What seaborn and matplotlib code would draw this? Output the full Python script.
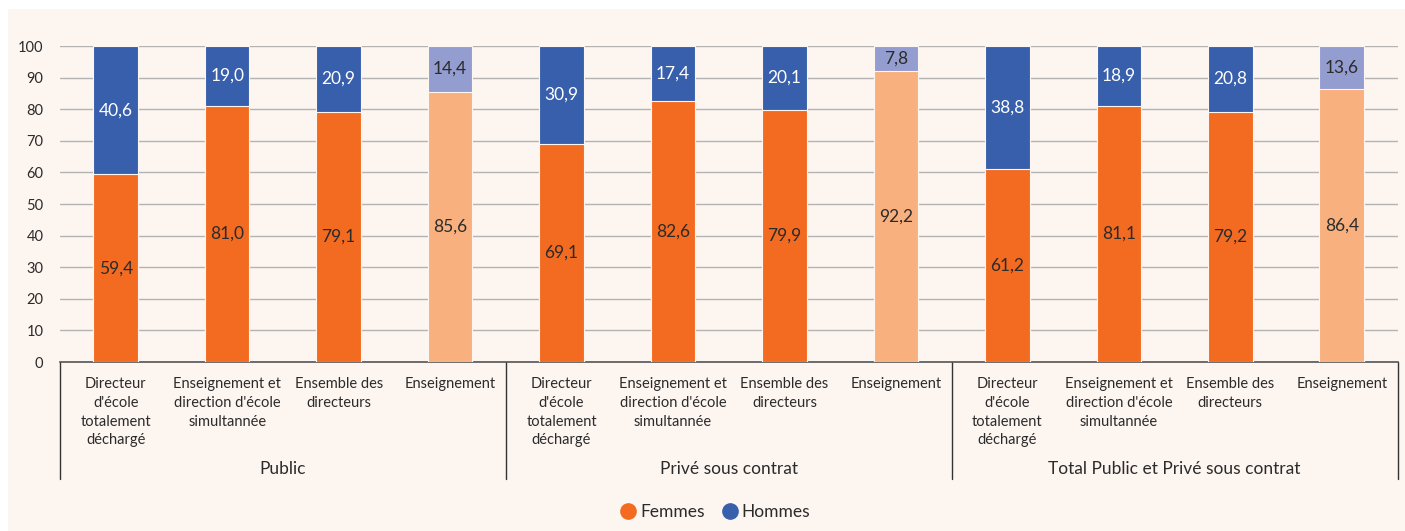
import matplotlib
matplotlib.use("Agg")
import matplotlib.pyplot as plt
import matplotlib.transforms as mtransforms
from matplotlib.lines import Line2D
from matplotlib.patches import Rectangle
import pandas as pd
import seaborn as sns

# Data (percent)
groups = ["Public", "Privé sous contrat", "Total Public et Privé sous contrat"]
categories = ["Directeur\nd'école\ntotalement\ndéchargé",
              "Enseignement et\ndirection d'école\nsimultannée",
              "Ensemble des\ndirecteurs",
              "Enseignement"]
femmes = [59.4, 81.0, 79.1, 85.6,
          69.1, 82.6, 79.9, 92.2,
          61.2, 81.1, 79.2, 86.4]
hommes = [40.6, 19.0, 20.9, 14.4,
          30.9, 17.4, 20.1, 7.8,
          38.8, 18.9, 20.8, 13.6]

ORANGE = "#f36b21"
BLUE = "#385fac"
ORANGE_LIGHT = "#f9b07f"
BLUE_LIGHT = "#949dcf"
BG = "#fdf5f0"
TXT = "#2b2b2b"

n = len(femmes)
df = pd.DataFrame({
    "idx": list(range(n)),
    "femmes": femmes,
    "total": [f + h for f, h in zip(femmes, hommes)],
})
f_colors = [ORANGE_LIGHT if i % 4 == 3 else ORANGE for i in range(n)]
h_colors = [BLUE_LIGHT if i % 4 == 3 else BLUE for i in range(n)]

sns.set_style("white")
plt.rcParams["font.family"] = ["Lato", "DejaVu Sans"]

fig = plt.figure(figsize=(14.05, 5.31), dpi=100)
fig.patches.append(Rectangle((8 / 1405, 0), 1, 1 - 9 / 531, transform=fig.transFigure,
                             facecolor=BG, edgecolor="none", zorder=-10))
ax = fig.add_axes([60 / 1405, 169 / 531, 1337.5 / 1405, 316 / 531])
ax.set_facecolor(BG)

# stacked: totals in the male colour, women drawn over them
sns.barplot(data=df, x="idx", y="total", hue="idx", palette=h_colors, legend=False,
            saturation=1, width=0.4, edgecolor=BG, linewidth=0.8, ax=ax, zorder=3)
sns.barplot(data=df, x="idx", y="femmes", hue="idx", palette=f_colors, legend=False,
            saturation=1, width=0.4, edgecolor=BG, linewidth=0.8, ax=ax, zorder=3)

def fmt(v):
    return f"{v:.1f}".replace(".", ",")

for i, (f, h) in enumerate(zip(femmes, hommes)):
    ax.text(i, f / 2, fmt(f), ha="center", va="center", fontsize=12.5, color=TXT, zorder=5)
    hc = TXT if i % 4 == 3 else "white"
    ax.text(i, f + h / 2, fmt(h), ha="center", va="center", fontsize=12.5, color=hc, zorder=5)

ax.set_xlim(-0.5, n - 0.5)
ax.set_ylim(0, 100)
ax.set_yticks(range(0, 101, 10))
ax.yaxis.grid(True, color="#b3b3b3", linewidth=1)
ax.set_axisbelow(True)
ax.tick_params(axis="y", length=0, pad=12, labelsize=10.5, labelcolor=TXT)
ax.set_xticks(range(n))
ax.set_xticklabels(categories * 3, fontsize=10.5, color=TXT, linespacing=1.42, va="top")
ax.tick_params(axis="x", length=0, pad=11)
ax.set_xlabel("")
ax.set_ylabel("")
for s in ["top", "right", "left"]:
    ax.spines[s].set_visible(False)
ax.spines["bottom"].set_color("#555555")
ax.spines["bottom"].set_linewidth(1.2)

trans = mtransforms.blended_transform_factory(ax.transData, ax.transAxes)
for xs in [-0.5, 3.5, 7.5, 11.5]:
    ax.add_line(Line2D([xs, xs], [0, -117 / 316], transform=trans, color="#333333",
                       linewidth=1, clip_on=False))
for g, name in enumerate(groups):
    ax.text(g * 4 + 1.5, -107 / 316, name, transform=trans, ha="center", va="center",
            fontsize=12.5, color=TXT)

handles = [Line2D([], [], marker="o", linestyle="", markersize=11, color=ORANGE, label="Femmes"),
           Line2D([], [], marker="o", linestyle="", markersize=11, color=BLUE, label="Hommes")]
fig.legend(handles=handles, loc="center", bbox_to_anchor=(0.509, 19 / 531), ncol=2,
           frameon=False, fontsize=12.5, handlelength=0.9, handletextpad=0.25,
           columnspacing=1.0, labelcolor=TXT)

fig.savefig("out.png", dpi=100, facecolor="white")
